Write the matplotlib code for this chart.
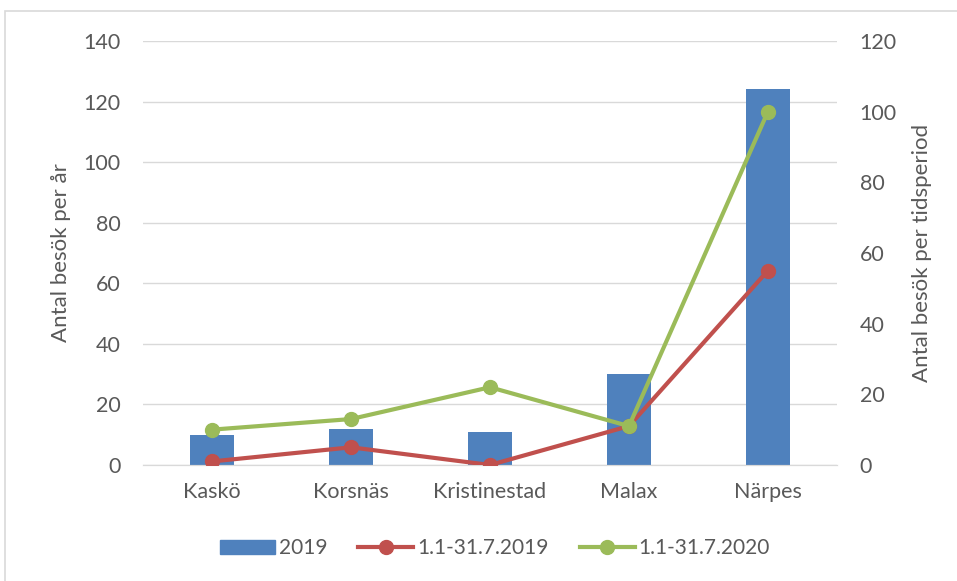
import matplotlib
matplotlib.use("Agg")
import matplotlib.pyplot as plt
import numpy as np
from matplotlib.patches import Rectangle
from matplotlib.lines import Line2D

plt.rcParams['font.family'] = ['Lato', 'DejaVu Sans']

# data
places = ["Kaskö", "Korsnäs", "Kristinestad", "Malax", "Närpes"]
visits_2019 = [10, 12, 11, 30, 124]
period_2019 = [1, 5, 0, 11, 55]
period_2020 = [10, 13, 22, 11, 100]

blue = "#4F81BD"
red = "#C0504D"
green = "#9BBB59"
txt = "#595959"
grid = "#D9D9D9"

fig = plt.figure(figsize=(9.57, 5.81), dpi=100)
ax = fig.add_axes([0.149, 0.1997, 0.726, 0.7297])
ax2 = ax.twinx()

x = np.arange(len(places))
ax.bar(x, visits_2019, width=0.32, color=blue, zorder=2)
ax2.plot(x, period_2019, color=red, lw=3, marker="o", ms=10, zorder=3,
         solid_capstyle="round")
ax2.plot(x, period_2020, color=green, lw=3, marker="o", ms=10, zorder=4,
         solid_capstyle="round")

ax.set_xlim(-0.5, len(places) - 0.5)
ax.set_ylim(0, 140)
ax.set_yticks(np.arange(0, 141, 20))
ax2.set_ylim(0, 120)
ax2.set_yticks(np.arange(0, 121, 20))
ax.set_xticks(x)
ax.set_xticklabels(places)

ax.grid(axis="y", color=grid, lw=1, zorder=0)
ax.set_axisbelow(True)
for a in (ax, ax2):
    for s in ("top", "left", "right"):
        a.spines[s].set_visible(False)
    a.spines["bottom"].set_color(grid)
    a.tick_params(length=0, labelsize=15.5, colors=txt)
ax.tick_params(axis="y", pad=16)
ax2.tick_params(axis="y", pad=16)
ax.tick_params(axis="x", pad=12)

ax.set_ylabel("Antal besök per år", fontsize=16, color=txt, labelpad=9)
ax2.set_ylabel("Antal besök per tidsperiod", fontsize=16, color=txt, labelpad=11)

# legend
handles = [
    Rectangle((0, 0), 1, 1, color=blue),
    Line2D([], [], color=red, lw=3, marker="o", ms=10),
    Line2D([], [], color=green, lw=3, marker="o", ms=10),
]
labels = ["2019", "1.1-31.7.2019", "1.1-31.7.2020"]
leg = fig.legend(handles, labels, loc="center", bbox_to_anchor=(0.517, 0.056),
                 ncol=3, frameon=False, fontsize=15, handlelength=2.65,
                 handleheight=0.7, handletextpad=0.17, columnspacing=1.5,
                 labelcolor=txt)

# chart border
fig.patches.append(Rectangle((5 / 957, -0.1), 1.1, (581 - 11) / 581 + 0.1,
                             transform=fig.transFigure, fill=False,
                             edgecolor=grid, lw=1.2))

fig.savefig("out.png", dpi=100)
